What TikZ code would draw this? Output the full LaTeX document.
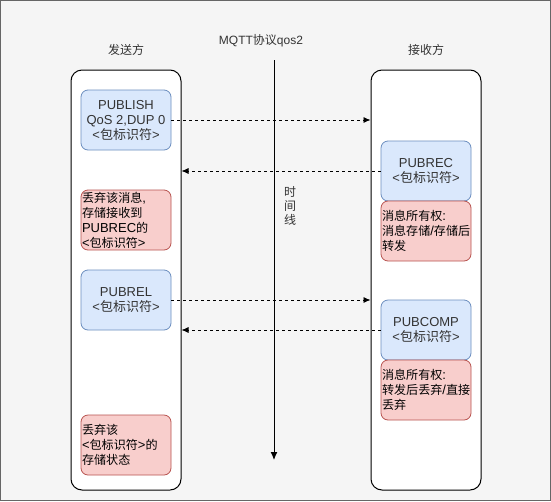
\documentclass[tikz,border=0pt]{standalone}
\usepackage{fontspec}
\setmainfont{Liberation Sans}
\newfontfamily\cjkf{Noto Sans CJK SC}
\newfontfamily\cjks[Scale=0.93]{Noto Sans CJK SC}
\newcommand\zhx[1]{{\cjkf #1}}
\newcommand\zhs[1]{{\cjks #1}}
\usetikzlibrary{arrows.meta}
\definecolor{bgc}{HTML}{F5F5F5}
\definecolor{bgline}{HTML}{666666}
\definecolor{bluef}{HTML}{DAE8FC}
\definecolor{blued}{HTML}{6C8EBF}
\definecolor{pinkf}{HTML}{F8CECC}
\definecolor{pinkd}{HTML}{B85450}
\definecolor{txt}{HTML}{333333}
\begin{document}
\begin{tikzpicture}[x=1pt,y=-1pt,
  every node/.style={font=\fontsize{12}{15}\selectfont, text=txt, inner sep=0pt},
  lane/.style={draw=black, fill=white, line width=1pt, rounded corners=11pt, minimum width=110pt, minimum height=420pt},
  bluebox/.style={draw=blued, fill=bluef, line width=0.8pt, rounded corners=7pt, minimum width=90pt, minimum height=60pt, align=center, font=\fontsize{13}{15}\selectfont},
  pinkbox/.style={draw=pinkd, fill=pinkf, line width=0.8pt, rounded corners=7pt, minimum width=90pt, minimum height=60pt, text width=88pt, align=left, text=black, font=\fontsize{13}{15}\selectfont},
  msg/.style={dashed, dash pattern=on 3pt off 3pt, line width=0.8pt, -{Latex[length=7pt,width=6pt]}},
  tline/.style={line width=1pt, -{Latex[length=8pt,width=7pt]}}
]
\fill[bgc] (0,0) rectangle (551,501);
\draw[bgline, line width=1.2pt] (0.6,0.6) rectangle (550.4,500.4);

\node (ttl) at (261,41) {MQTT\zhx{协议}qos2};
\node (sndt) at (126,50) {\zhx{发送方}};
\node (rcvt) at (426,50) {\zhx{接收方}};

\node[lane] (L) at (126,280) {};
\node[lane] (R) at (426,280) {};

\node[bluebox] (pub) at (126,120) {PUBLISH\\QoS 2,DUP 0\\<\zhx{包标识符}>};
\node[pinkbox] (p1) at (126,220) {\zhs{丢弃该消息},\\\zhs{存储接收到}\\PUBREC\zhs{的}\\<\zhs{包标识符}>};
\node[bluebox] (pubrel) at (126,300) {PUBREL\\<\zhx{包标识符}>};
\node[pinkbox] (p2) at (126,445) {\zhs{丢弃该}\\<\zhs{包标识符}>\zhs{的}\\\zhs{存储状态}};

\node[bluebox] (pubrec) at (426,171) {PUBREC\\<\zhx{包标识符}>};
\node[pinkbox] (p3) at (426,231) {\zhs{消息所有权}:\\\zhs{消息存储}/\zhs{存储后}\\\zhs{转发}};
\node[bluebox] (pubcomp) at (426,330) {PUBCOMP\\<\zhx{包标识符}>};
\node[pinkbox] (p4) at (426,390) {\zhs{消息所有权}:\\\zhs{转发后丢弃}/\zhs{直接}\\\zhs{丢弃}};

\draw[msg] (pub.east) -- (pub.east -| R.west);
\draw[msg] (pubrec.west) -- (pubrec.west -| L.east);
\draw[msg] (pubrel.east) -- (pubrel.east -| R.west);
\draw[msg] (pubcomp.west) -- (pubcomp.west -| L.east);

\coordinate (t0) at (274,60);
\coordinate (t1) at (274,460);
\draw[tline] (t0) -- (t1);
\node[align=center, font=\fontsize{12}{14}\selectfont] (tl) at (290,206) {\zhx{时}\\\zhx{间}\\\zhx{线}};
\end{tikzpicture}
\end{document}
